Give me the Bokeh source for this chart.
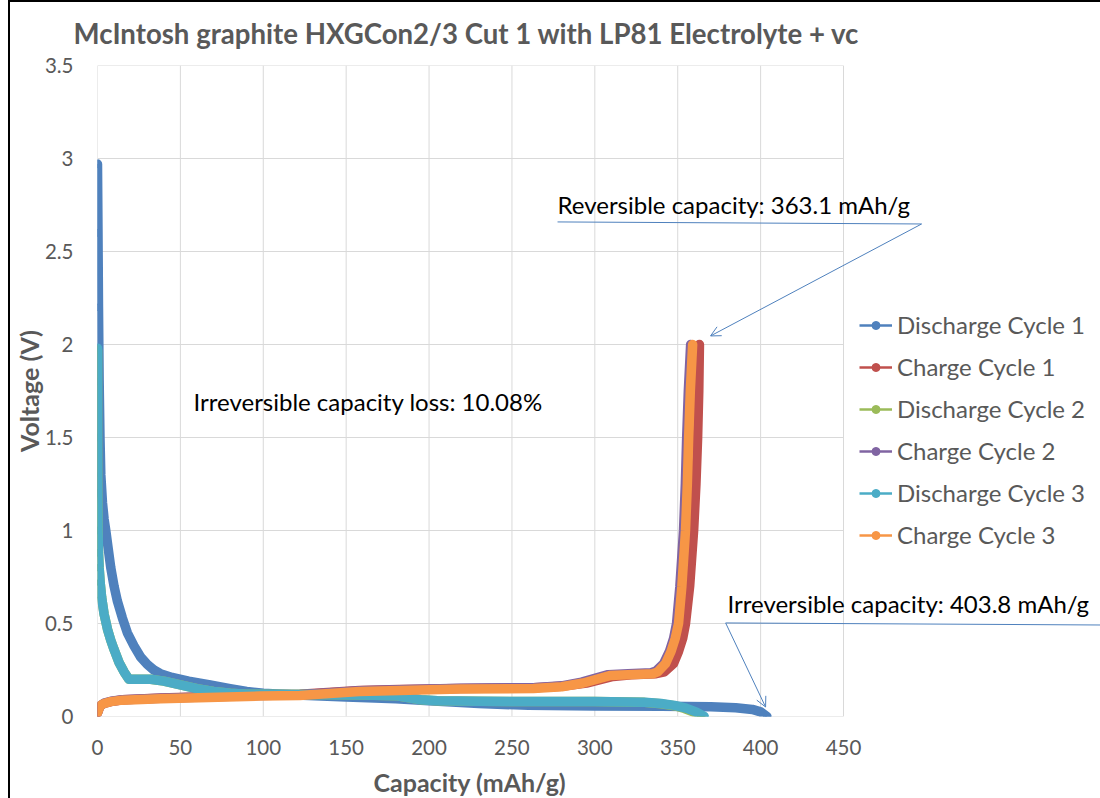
import numpy as np
from bokeh.plotting import figure
from bokeh.models import Range1d, Legend, LegendItem, Label, Arrow, OpenHead, Title
from bokeh.embed import file_html
from bokeh.resources import INLINE

# ---------------- data ----------------
series_names = ["Discharge Cycle 1", "Charge Cycle 1", "Discharge Cycle 2",
                "Charge Cycle 2", "Discharge Cycle 3", "Charge Cycle 3"]
series_colors = ["#4F81BD", "#C0504D", "#9BBB59", "#8064A2", "#4BACC6", "#F79646"]

dis1_x = [0, 0.3, 0.6, 1, 1.5, 2, 3, 4, 5, 6.5, 8, 10, 12, 15, 18, 22, 26, 30, 34, 38,
          45, 55, 68, 80, 90, 100, 120, 150, 180, 200, 230, 260, 300, 340, 370, 385, 395, 400, 403.8]
dis1_y = [2.97, 2.6, 2.2, 1.8, 1.5, 1.3, 1.15, 1.06, 1.0, 0.9, 0.8, 0.7, 0.62, 0.53, 0.45, 0.38, 0.32, 0.28, 0.25, 0.23,
          0.21, 0.19, 0.17, 0.15, 0.135, 0.125, 0.115, 0.105, 0.095, 0.085, 0.07, 0.06, 0.057, 0.055, 0.052, 0.047, 0.038, 0.025, 0.0]

chg1_x = [0, 1, 2, 4, 8, 15, 38, 98, 122, 158, 182, 219, 263, 280, 295, 311, 322, 337, 342,
          347.5, 350.5, 353, 354.7, 357.2, 359.6, 361, 362, 362.7, 363.1]
chg1_y = [0.02, 0.045, 0.06, 0.07, 0.08, 0.09, 0.1, 0.115, 0.12, 0.14, 0.145, 0.15, 0.155, 0.162, 0.18, 0.215, 0.225, 0.23, 0.24,
          0.285, 0.35, 0.42, 0.5, 0.7, 1.0, 1.25, 1.5, 1.75, 2.0]

dis2_x = [0, 0, 0.1, 0.3, 0.6, 1, 1.6, 2.5, 4, 6, 8, 10, 13, 16, 19, 25, 32, 40, 50, 60,
          70, 80, 90, 100, 130, 160, 180, 188, 195, 205, 230, 260, 300, 330, 340, 348, 354, 360, 364]
dis2_y = [1.97, 1.5, 1.2, 1.0, 0.88, 0.8, 0.72, 0.64, 0.55, 0.47, 0.41, 0.36, 0.29, 0.24, 0.2, 0.2, 0.2, 0.19, 0.17, 0.15,
          0.135, 0.125, 0.12, 0.12, 0.118, 0.115, 0.112, 0.1, 0.09, 0.085, 0.082, 0.08, 0.08, 0.076, 0.068, 0.058, 0.043, 0.023, 0.0]

chg2_x = [0, 1, 2, 4, 8, 15, 38, 98, 122, 158, 182, 219, 263, 280, 292, 308, 320, 334, 337,
          341.5, 345, 347.5, 349.3, 351.3, 353.5, 354.6, 355.4, 356.4, 357.8]
chg2_y = [0.02, 0.045, 0.06, 0.072, 0.082, 0.09, 0.098, 0.113, 0.117, 0.138, 0.144, 0.152, 0.155, 0.165, 0.185, 0.225, 0.23, 0.235, 0.245,
          0.285, 0.35, 0.42, 0.5, 0.7, 1.0, 1.25, 1.5, 1.75, 2.0]

dis3_x = [0, 0, 0.1, 0.3, 0.6, 1, 1.6, 2.5, 4, 6, 8, 10, 13, 16, 19, 25, 32, 40, 50, 60,
          70, 80, 90, 100, 130, 160, 180, 188, 195, 205, 230, 260, 300, 330, 340, 348, 355, 361, 366]
dis3_y = [1.98, 1.5, 1.2, 1.0, 0.88, 0.8, 0.72, 0.64, 0.55, 0.47, 0.41, 0.36, 0.29, 0.24, 0.2, 0.2, 0.2, 0.19, 0.17, 0.15,
          0.135, 0.125, 0.12, 0.12, 0.118, 0.115, 0.112, 0.1, 0.09, 0.085, 0.082, 0.08, 0.08, 0.077, 0.07, 0.06, 0.045, 0.025, 0.0]

chg3_x = [0, 1, 2, 4, 8, 15, 38, 98, 122, 158, 182, 219, 263, 280, 293, 309, 320, 335, 338,
          342.7, 346, 348.5, 350.5, 352.5, 354.7, 355.8, 356.6, 357.6, 359]
chg3_y = [0.02, 0.045, 0.06, 0.07, 0.08, 0.088, 0.095, 0.11, 0.113, 0.135, 0.14, 0.148, 0.15, 0.16, 0.18, 0.22, 0.225, 0.23, 0.24,
          0.285, 0.35, 0.42, 0.5, 0.7, 1.0, 1.25, 1.5, 1.75, 2.0]

series_x = [dis1_x, chg1_x, dis2_x, chg2_x, dis3_x, chg3_x]
series_y = [dis1_y, chg1_y, dis2_y, chg2_y, dis3_y, chg3_y]

x_ticks = [0, 50, 100, 150, 200, 250, 300, 350, 400, 450]
y_ticks = [0, 0.5, 1, 1.5, 2, 2.5, 3, 3.5]
y_tick_labels = ["0", "0.5", "1", "1.5", "2", "2.5", "3", "3.5"]

title_text = "McIntosh graphite HXGCon2/3 Cut 1 with LP81 Electrolyte +  vc"
x_title = "Capacity  (mAh/g)"
y_title = "Voltage (V)"
note_loss = "Irreversible  capacity loss: 10.08%"
note_rev = "Reversible  capacity: 363.1 mAh/g"
note_irr = "Irreversible  capacity: 403.8 mAh/g"

# ---------------- layout / styling ----------------
FONT = "Lato"
GRAY = "#595959"
GRID = "#d9d9d9"
ARROW = "#4F81BD"

X_MAX, Y_MAX = 450, 3.5
PLOT_W = 746                        # pixels used by 0..450
FRAME_W = 1003                      # frame extends under legend / notes
x_end = FRAME_W * X_MAX / PLOT_W

p = figure(frame_width=FRAME_W, frame_height=651,
           min_border_left=0, min_border_right=0, min_border_top=63, min_border_bottom=74,
           x_range=Range1d(0, x_end), y_range=Range1d(0, Y_MAX),
           output_backend="svg", toolbar_location=None)
p.styles = {"border-left": "2px solid black", "border-top": "2px solid black",
            "margin-left": "8px"}
p.outline_line_color = None
p.background_fill_color = "white"
p.xgrid.visible = False
p.ygrid.visible = False

p.title.text = title_text
p.title.align = "left"
p.title.vertical_align = "top"
p.title.offset = -24
p.title.text_font = FONT
p.title.text_font_size = "27.6px"
p.title.text_font_style = "bold"
p.title.text_color = GRAY
p.title.standoff = 28

p.xaxis.ticker = x_ticks
p.yaxis.ticker = y_ticks
p.yaxis.major_label_overrides = {t: l for t, l in zip(y_ticks, y_tick_labels)}
for ax in (p.xaxis[0], p.yaxis[0]):
    ax.axis_line_color = None
    ax.major_tick_line_color = None
    ax.minor_tick_line_color = None
    ax.major_label_text_font = FONT
    ax.major_label_text_font_size = "20.5px"
    ax.major_label_text_color = GRAY
    ax.axis_label_text_font = FONT
    ax.axis_label_text_font_size = "25px"
    ax.axis_label_text_font_style = "bold"
    ax.axis_label_text_color = GRAY
p.yaxis.axis_label = y_title
p.xaxis.major_label_standoff = 17
p.yaxis.major_label_standoff = 18
p.yaxis.axis_label_standoff = -2

# x-axis title, placed under the 0..450 part of the frame
p.add_layout(Title(text=x_title, align="left", offset=276, text_font=FONT,
                   text_font_size="25px", text_font_style="bold", text_color=GRAY,
                   standoff=15), "below")

# grid limited to the plotting area 0..450 x 0..3.5
p.segment(x0=x_ticks, y0=[0] * len(x_ticks), x1=x_ticks, y1=[Y_MAX] * len(x_ticks),
          line_color=GRID, line_width=1)
p.segment(x0=[0] * len(y_ticks), y0=y_ticks, x1=[X_MAX] * len(y_ticks), y1=y_ticks,
          line_color=GRID, line_width=1)

# thin line + markers (legend glyphs), drawn underneath the thick traces
items = []
for name, xs, ys, c in zip(series_names, series_x, series_y, series_colors):
    lr = p.line(xs, ys, line_width=2.5, line_color=c)
    sr = p.scatter(xs, ys, size=7, fill_color=c, line_color=c)
    items.append(LegendItem(label=name, renderers=[lr, sr]))

# curves (thick, like dense Excel markers)
for xs, ys, c in zip(series_x, series_y, series_colors):
    p.line(xs, ys, line_width=9.5, line_color=c, line_cap="round", line_join="round")

legend = Legend(items=items, location=(762, 167))
legend.label_text_font = FONT
legend.label_text_font_size = "24px"
legend.label_text_color = GRAY
legend.glyph_width = 33
legend.glyph_height = 20
legend.label_height = 20
legend.spacing = 13
legend.padding = 0
legend.margin = 0
legend.label_standoff = 5
legend.border_line_color = None
legend.background_fill_alpha = 0
p.add_layout(legend)

# annotations
for xx, yy, tt in [(57.9, 1.696, note_loss), (277.5, 2.755, note_rev), (380.0, 0.605, note_irr)]:
    p.add_layout(Label(x=xx, y=yy, text=tt, text_font=FONT, text_font_size="24px",
                       text_color="black", text_baseline="middle"))

p.add_layout(Arrow(x_start=277.5, y_start=2.659, x_end=497.1, y_end=2.648, end=None,
                   line_color=ARROW, line_width=1))
p.add_layout(Arrow(x_start=497.1, y_start=2.648, x_end=369.8, y_end=2.046,
                   end=OpenHead(size=10, line_color=ARROW, line_width=1),
                   line_color=ARROW, line_width=1))
p.add_layout(Arrow(x_start=378.9, y_start=0.503, x_end=x_end, y_end=0.492, end=None,
                   line_color=ARROW, line_width=1))
p.add_layout(Arrow(x_start=378.9, y_start=0.503, x_end=403.0, y_end=0.051,
                   end=OpenHead(size=10, line_color=ARROW, line_width=1),
                   line_color=ARROW, line_width=1))

open("out.html", "w").write(file_html(p, INLINE))
